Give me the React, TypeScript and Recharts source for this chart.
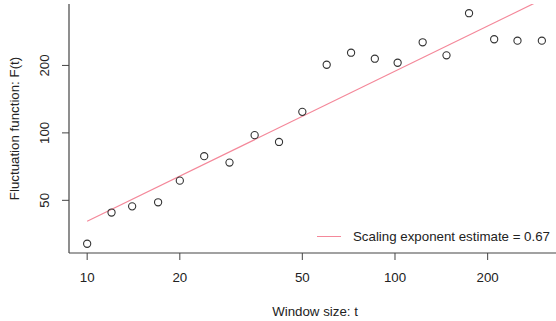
import React from 'react';
import {
  ComposedChart,
  Scatter,
  Line,
  XAxis,
  YAxis,
  Legend,
} from 'recharts';

// window sizes (t) and fluctuation function F(t)
const windowSizes = [10, 12, 14, 17, 20, 24, 29, 35, 42, 50, 60, 72, 86, 102, 123, 147, 174, 210, 250, 300];
const fluctuation = [32.0, 44.1, 47.0, 49.0, 61.2, 78.7, 73.7, 97.7, 91.1, 124.1, 201.4, 227.9, 214.3, 205.6, 253.7, 221.9, 342, 261.7, 257.9, 257.9];

// fitted power law line, end points only (straight in log-log space)
const fitWindow = [10, 300];
const fitValues = [40.3, 393.5];

const xTicks = [10, 20, 50, 100, 200];
const yTicks = [50, 100, 200];
const legendLabel = 'Scaling exponent estimate = 0.67';

const points = windowSizes.map((t, i) => ({ t, f: fluctuation[i] }));
const fitLine = fitWindow.map((t, i) => ({ t, f: fitValues[i] }));

const FONT = '"Liberation Sans", Arial, Helvetica, sans-serif';
const FS = 13.3;
const INK = '#222';
const AXIS = '#444';
const FIT = '#f4889a';

const XTick = (props: any) => {
  const { x, y, payload } = props;
  return (
    <text x={x} y={y + 17.5} textAnchor="middle" dominantBaseline="central"
      fontFamily={FONT} fontSize={FS} fill={INK}>
      {payload.value}
    </text>
  );
};

const YTick = (props: any) => {
  const { x, y, payload } = props;
  const cx = x - 17;
  return (
    <text x={cx} y={y} textAnchor="middle" dominantBaseline="central"
      transform={`rotate(-90 ${cx} ${y})`}
      fontFamily={FONT} fontSize={FS} fill={INK}>
      {payload.value}
    </text>
  );
};

const XTitle = (props: any) => {
  const { viewBox } = props;
  return (
    <text x={315} y={viewBox.y + 58} textAnchor="middle" dominantBaseline="central"
      fontFamily={FONT} fontSize={FS} fill={INK}>
      Window size: t
    </text>
  );
};

const YTitle = (props: any) => {
  const { viewBox } = props;
  const cx = 14;
  const cy = viewBox.y + viewBox.height / 2;
  return (
    <text x={cx} y={cy} textAnchor="middle" dominantBaseline="central"
      transform={`rotate(-90 ${cx} ${cy})`}
      fontFamily={FONT} fontSize={FS} fill={INK}>
      Fluctuation function: F(t)
    </text>
  );
};

const Ring = (props: any) => {
  const { cx, cy } = props;
  return <circle cx={cx} cy={cy} r={3.6} fill="none" stroke="#333" strokeWidth={1.1} />;
};

const LegendBox = () => (
  <div style={{ display: 'flex', alignItems: 'center', fontFamily: FONT, fontSize: FS, color: INK, whiteSpace: 'nowrap' }}>
    <span style={{ display: 'inline-block', width: 24, height: 0, borderTop: `1.2px solid ${FIT}`, marginRight: 12 }} />
    <span>{legendLabel}</span>
  </div>
);

export default function App() {
  return (
    <div style={{ position: 'absolute', left: 0, top: 0, width: 556, height: 321, overflow: 'hidden', background: '#fff' }}>
      <ComposedChart width={566} height={321} margin={{ top: 4, right: 6, bottom: 0, left: 0 }}>
        <XAxis
          xAxisId="top"
          orientation="top"
          dataKey="t"
          type="number"
          scale="log"
          domain={[8.73, 343.6]}
          allowDataOverflow
          height={0}
          tick={false}
          tickLine={false}
          axisLine={{ stroke: AXIS, strokeWidth: 1.2 }}
        />
        <XAxis
          dataKey="t"
          type="number"
          scale="log"
          domain={[8.73, 343.6]}
          allowDataOverflow
          ticks={xTicks}
          height={68}
          tickSize={7}
          tickMargin={0}
          tick={<XTick />}
          tickLine={{ stroke: AXIS }}
          axisLine={{ stroke: AXIS, strokeWidth: 1.2 }}
          label={<XTitle />}
        />
        <YAxis
          dataKey="f"
          type="number"
          scale="log"
          domain={[29.1, 376]}
          allowDataOverflow
          ticks={yTicks}
          width={69}
          tickSize={7}
          tickMargin={0}
          tick={<YTick />}
          tickLine={{ stroke: AXIS }}
          axisLine={{ stroke: AXIS, strokeWidth: 1.2 }}
          label={<YTitle />}
        />
        <Legend
          layout="horizontal"
          verticalAlign="middle"
          align="center"
          wrapperStyle={{ left: 317, top: 229, width: 'auto' }}
          content={<LegendBox />}
        />
        <Line
          data={fitLine}
          dataKey="f"
          type="linear"
          stroke={FIT}
          strokeWidth={1.2}
          dot={false}
          activeDot={false}
          isAnimationActive={false}
          name={legendLabel}
        />
        <Scatter
          data={points}
          dataKey="f"
          shape={<Ring />}
          legendType="none"
          isAnimationActive={false}
        />
      </ComposedChart>
    </div>
  );
}
